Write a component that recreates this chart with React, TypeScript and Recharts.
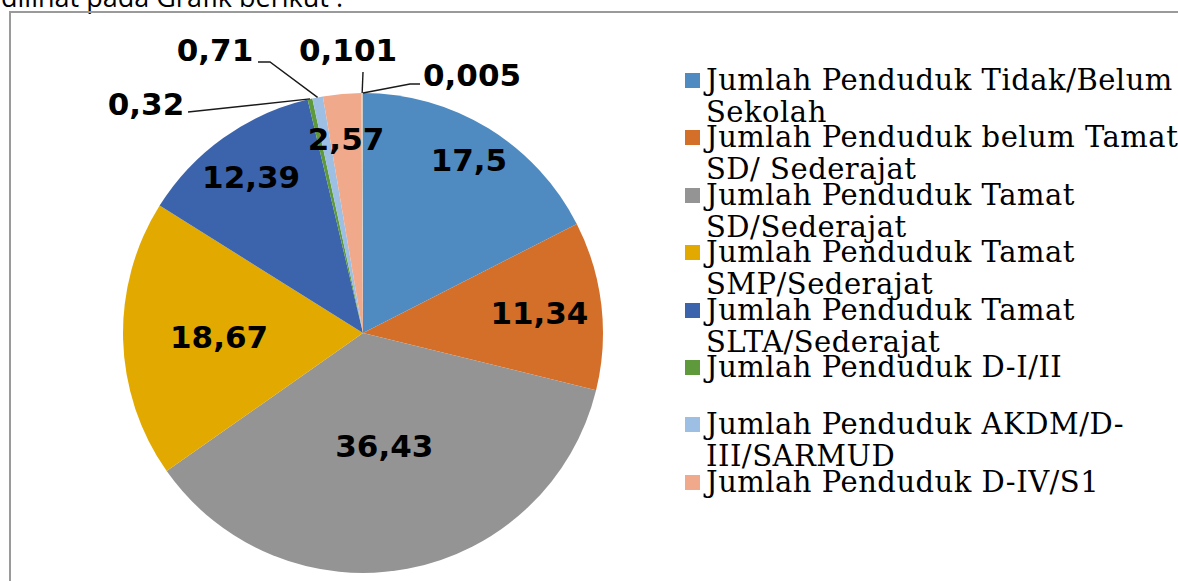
import React from "react";
import { PieChart, Pie, Cell, Legend } from "recharts";

const CATEGORIES = [
  "Jumlah Penduduk Tidak/Belum Sekolah",
  "Jumlah Penduduk belum Tamat SD/ Sederajat",
  "Jumlah Penduduk Tamat SD/Sederajat",
  "Jumlah Penduduk Tamat SMP/Sederajat",
  "Jumlah Penduduk Tamat SLTA/Sederajat",
  "Jumlah Penduduk D-I/II",
  "Jumlah Penduduk AKDM/D-III/SARMUD",
  "Jumlah Penduduk D-IV/S1",
  "Jumlah Penduduk S2",
  "Jumlah Penduduk S3",
];
const VALUES = [17.5, 11.34, 36.43, 18.67, 12.39, 0.32, 0.71, 2.57, 0.101, 0.005];
const VALUE_LABELS = ["17,5", "11,34", "36,43", "18,67", "12,39", "0,32", "0,71", "2,57", "0,101", "0,005"];
const LEGEND_COUNT = 8;

const COLORS = [
  "#4f8bc0",
  "#d46f2a",
  "#949494",
  "#e2aa00",
  "#3c64ac",
  "#5e9a3c",
  "#9dbfe3",
  "#f0a98a",
  "#c9c9c9",
  "#f2d57e",
];

type LabelLayout =
  | { kind: "in"; r: number }
  | { kind: "out"; tx: number; ty: number; pts: [number, number][] };

const LABEL_LAYOUT: LabelLayout[] = [
  { kind: "in", r: 0.845 },
  { kind: "in", r: 0.74 },
  { kind: "in", r: 0.48 },
  { kind: "in", r: 0.6 },
  { kind: "in", r: 0.8 },
  { kind: "out", tx: -217, ty: -229, pts: [[-175, -221]] },
  { kind: "out", tx: -148, ty: -283, pts: [[-93, -271], [-105, -271]] },
  { kind: "in", r: 0.81 },
  { kind: "out", tx: -15, ty: -283, pts: [[0, -261]] },
  { kind: "out", tx: 109, ty: -258, pts: [[47, -249], [57, -249]] },
];

const data = CATEGORIES.map((name, i) => ({ name, value: VALUES[i], label: VALUE_LABELS[i] }));

const RAD = Math.PI / 180;

const renderLabel = (props: any) => {
  const { cx, cy, midAngle, outerRadius, index } = props;
  const layout = LABEL_LAYOUT[index];
  const text = VALUE_LABELS[index];
  const style = {
    fontFamily: "'DejaVu Sans', Verdana, sans-serif",
    fontWeight: 700,
    fontSize: 31,
    fill: "#000",
  } as const;
  if (layout.kind === "in") {
    const r = outerRadius * layout.r;
    const x = cx + r * Math.cos(-midAngle * RAD);
    const y = cy + r * Math.sin(-midAngle * RAD);
    return (
      <text key={`l${index}`} x={x} y={y} textAnchor="middle" dominantBaseline="central" style={style}>
        {text}
      </text>
    );
  }
  const ox = cx + outerRadius * Math.cos(-midAngle * RAD);
  const oy = cy + outerRadius * Math.sin(-midAngle * RAD);
  const pts = [[ox, oy], ...layout.pts.map(([dx, dy]) => [cx + dx, cy + dy])]
    .map((p) => p.join(","))
    .join(" ");
  return (
    <g key={`l${index}`}>
      <polyline points={pts} fill="none" stroke="#1a1a1a" strokeWidth={1.4} />
      <text
        x={cx + layout.tx}
        y={cy + layout.ty}
        textAnchor="middle"
        dominantBaseline="central"
        style={style}
      >
        {text}
      </text>
    </g>
  );
};

const renderLegend = () => {
  const items = CATEGORIES.slice(0, LEGEND_COUNT).map((name, i) => ({ name, color: COLORS[i] }));
  return (
    <div style={{ position: "relative" }}>
      {items.map((entry, i) => (
        <div key={i} style={{ position: "relative", height: 57.4 }}>
          <div
            style={{
              position: "absolute",
              left: 0,
              top: 9,
              width: 15,
              height: 15,
              background: entry.color,
            }}
          />
          <div
            style={{
              position: "absolute",
              left: 21,
              top: 0,
              width: 480,
              fontFamily: "'DejaVu Serif', serif",
              fontSize: 29,
              letterSpacing: 0.5,
              lineHeight: "32px",
              color: "#000",
              whiteSpace: "normal",
            }}
          >
            {entry.name.replace(/\//g, "/\u2060")}
          </div>
        </div>
      ))}
    </div>
  );
};

export default function App() {
  return (
    <div style={{ position: "absolute", left: 0, top: 0, width: 1178, height: 581, background: "#fff", overflow: "hidden" }}>
      <div
        style={{
          position: "absolute",
          left: 1,
          top: -18,
          fontFamily: "'Open Sans', sans-serif",
          fontSize: 27,
          lineHeight: "30px",
          color: "#000",
          whiteSpace: "nowrap",
        }}
      >
        dilihat pada Grafik berikut :
      </div>
      <div
        style={{
          position: "absolute",
          left: 9,
          top: 11,
          width: 1200,
          height: 600,
          borderLeft: "2px solid #9a9a9a",
          borderTop: "2px solid #9a9a9a",
        }}
      />
      <div style={{ position: "absolute", left: 0, top: 0 }}>
        <PieChart width={1178} height={581} margin={{ top: 0, right: 0, bottom: 0, left: 0 }}>
          <Pie
            data={data}
            dataKey="value"
            nameKey="name"
            cx={363}
            cy={333}
            outerRadius={240}
            startAngle={90}
            endAngle={-270}
            stroke="none"
            label={renderLabel}
            labelLine={false}
            isAnimationActive={false}
          >
            {data.map((_, i) => (
              <Cell key={i} fill={COLORS[i]} />
            ))}
          </Pie>
          <Legend
            layout="vertical"
            align="right"
            verticalAlign="top"
            content={renderLegend}
            wrapperStyle={{ position: "absolute", left: 685, top: 64, width: 500 }}
          />
        </PieChart>
      </div>
    </div>
  );
}
